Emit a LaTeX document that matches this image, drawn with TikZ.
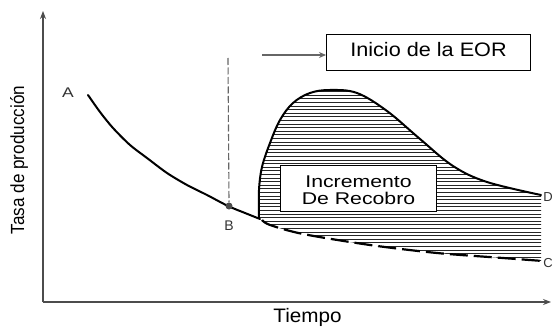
\documentclass[tikz,border=0pt]{standalone}
\usepackage{fontspec}
\setmainfont{Liberation Sans}
\newfontfamily\fTasa[FakeStretch=0.9]{Liberation Sans}
\newfontfamily\fTiempo[FakeStretch=1.06]{Liberation Sans}
\newfontfamily\fInicio[FakeStretch=1.11]{Liberation Sans}
\newfontfamily\fInc[FakeStretch=1.25]{Liberation Sans}
\usetikzlibrary{arrows.meta}
\begin{document}
\begin{tikzpicture}[x=1pt,y=-1pt,
  axis/.style={draw=black!70, line width=1.1pt, -{Stealth[length=8pt,width=6pt]}},
  curve/.style={line width=2pt, line cap=round},
  basecurve/.style={line width=2.2pt, dash pattern=on 18pt off 6pt},
  hatch/.style={line width=0.9pt, black!85},
  markline/.style={draw=black!60, line width=1.1pt, dash pattern=on 7pt off 2.5pt},
  labelbox/.style={draw=black, line width=0.9pt, fill=white, inner sep=0pt, align=center},
  ptlabel/.style={font=\fInc\fontsize{14}{16}\selectfont, text=black!80, inner sep=0pt}]
\useasboundingbox (0,0) rectangle (553,326);
\fill[white] (0,0) rectangle (553,326);

% axes
\coordinate (origin) at (43,302);
\coordinate (ytop) at (43,11);
\coordinate (xend) at (551,302);
\draw[axis] (origin) -- (ytop);
\draw[axis] (origin) -- (xend);

% hatched area
\begin{scope}
\clip plot[smooth,tension=0.6] coordinates {(259,218) (259,190) (262,167) (270,143) (280,120) (293,103) (310,93) (330,90) (357,93) (387,111) (420,139) (453,166) (487,182) (541,195)}
  -- (541,261)
  -- plot[smooth] coordinates {(541,261) (503,258) (437,253) (370,245) (303,234) (270,225) (259,218)} -- cycle;
\foreach \yy in {88,91.6,...,266} \draw[hatch] (250,\yy) -- (548,\yy);
\end{scope}
% upper hump curve
\draw[curve] plot[smooth,tension=0.6] coordinates {(259,218) (259,190) (262,167) (270,143) (280,120) (293,103) (310,93) (330,90) (357,93) (387,111) (420,139) (453,166) (487,182) (541,195)};
% lower dashed base curve
\draw[basecurve] plot[smooth] coordinates {(262,220) (270,225) (303,234) (370,245) (437,253) (503,258) (543,261)};

% decline curve A-B
\draw[curve] plot[smooth] coordinates {(88,95) (100,112) (113,128) (130,145) (147,158) (167,173) (187,185) (207,195) (228,206) (245,213) (260,219)};

% vertical dashed marker
\coordinate (mtop) at (228,58);
\node[circle, fill=black!70, inner sep=0pt, minimum size=7pt] (B) at (229,206) {};
\draw[markline] (mtop) -- (B.north);

% labels
\node[ptlabel, anchor=base] (lA) at (68,97) {A};
\node[ptlabel, anchor=base, font=\fontsize{14}{16}\selectfont] (lB) at (229,230) {B};
\node[ptlabel, anchor=base east, font=\fontsize{13}{15}\selectfont] (lD) at (553,201) {D};
\node[ptlabel, anchor=base east, font=\fontsize{13}{15}\selectfont] (lC) at (553,267) {C};

% EOR box and arrow
\draw[draw=black, line width=0.9pt, fill=white] (326,34) rectangle (530,70);
\node[inner sep=0pt, anchor=base, font=\fInicio\fontsize{19.5}{22}\selectfont] (eor) at (428.5,57) {Inicio de la EOR};
\coordinate (eorwest) at (326,55);
\coordinate (astart) at (262,55);
\draw[draw=black!60, line width=1.3pt, -{Stealth[length=7pt,width=6pt]}] (astart) -- (eorwest);

% increment box
\draw[draw=black, line width=0.9pt, fill=white] (280,165) rectangle (436,211);
\node[inner sep=0pt, anchor=base, font=\fInc\fontsize{17}{17}\selectfont] (inc1) at (358.5,187) {Incremento};
\node[inner sep=0pt, anchor=base, font=\fInc\fontsize{17}{17}\selectfont] (inc2) at (358.5,204) {De Recobro};

% axis labels
\node[rotate=90, inner sep=0pt, font=\fTasa\fontsize{19}{21}\selectfont] (ylab) at (19,160) {Tasa de producción};
\node[inner sep=0pt, anchor=base, font=\fTiempo\fontsize{19.5}{21}\selectfont] (xlab) at (307.5,322) {Tiempo};
\end{tikzpicture}
\end{document}
